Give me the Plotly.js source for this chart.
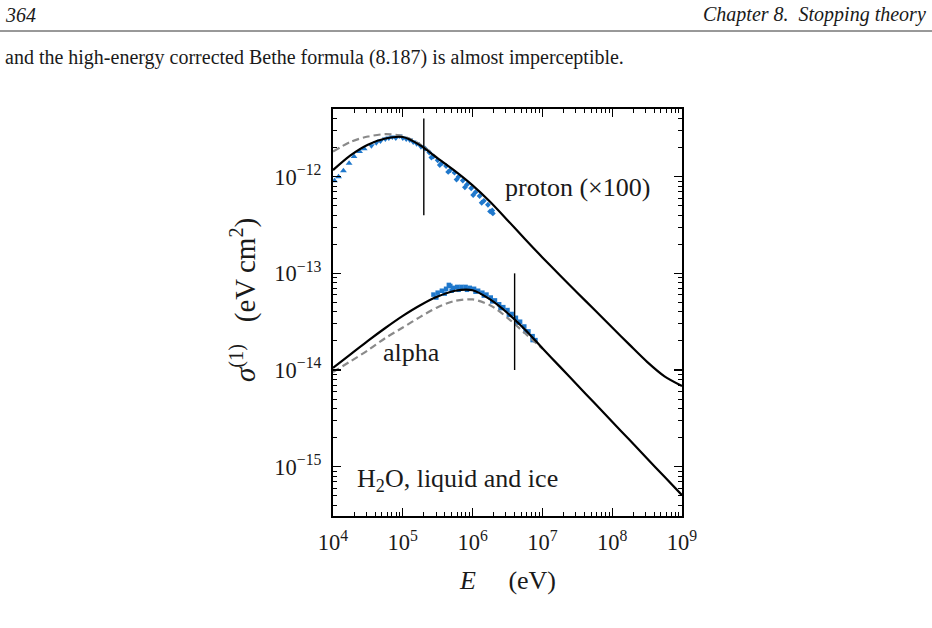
<!DOCTYPE html>
<html>
<head>
<meta charset="utf-8">
<script src="https://cdn.plot.ly/plotly-3.0.1.min.js"></script>
<style>
  html, body { margin: 0; padding: 0; background: #fff; }
  #chart { width: 932px; height: 628px; }
</style>
</head>
<body>
<div id="chart"></div>
<script>
// Electronic stopping cross section of H2O (liquid and ice), eV cm^2.
// Proton values are multiplied by 100.

// --- proton, corrected Bethe theory (solid) ---
const protonE = [1e4, 1.78e4, 3.16e4, 5.62e4, 1e5, 1.78e5, 3.16e5, 5.62e5, 1e6, 1.78e6, 3.16e6, 5.62e6, 1e7, 1.78e7, 3.16e7, 5.62e7, 1e8, 1.78e8, 3.16e8, 5.62e8, 1e9];
const protonS = [1.17e-12, 1.66e-12, 2.14e-12, 2.48e-12, 2.57e-12, 2.11e-12, 1.55e-12, 1.14e-12, 8.13e-13, 5.50e-13, 3.55e-13, 2.265e-13, 1.462e-13, 9.55e-14, 6.31e-14, 4.17e-14, 2.75e-14, 1.82e-14, 1.216e-14, 8.61e-15, 6.84e-15];

// --- proton, alternative theory (dashed) ---
const protonDashE = [1e4, 1.78e4, 3.16e4, 5.62e4, 1e5, 1.78e5, 3.16e5];
const protonDashS = [1.82e-12, 2.29e-12, 2.60e-12, 2.75e-12, 2.63e-12, 2.16e-12, 1.55e-12];

// --- proton, measurements ---
const protonUpE = [1.05e4, 1.2e4, 1.41e4, 1.7e4, 2.0e4, 2.4e4, 2.8e4];
const protonUpS = [9.1e-13, 1.0e-12, 1.15e-12, 1.38e-12, 1.62e-12, 1.82e-12, 1.95e-12];
const protonDownE = [3.55e4, 4.17e4, 4.79e4, 5.62e4, 6.31e4, 7.08e4, 7.94e4, 8.91e4, 1.0e5, 1.12e5, 1.26e5, 1.41e5, 1.58e5, 1.82e5];
const protonDownS = [2.09e-12, 2.24e-12, 2.34e-12, 2.45e-12, 2.51e-12, 2.57e-12, 2.51e-12, 2.63e-12, 2.51e-12, 2.45e-12, 2.40e-12, 2.29e-12, 2.19e-12, 2.04e-12];
const protonHighE = [2.09e5, 2.40e5, 2.75e5, 3.16e5, 3.63e5, 4.17e5, 4.79e5, 5.50e5, 6.31e5, 7.24e5, 8.32e5, 9.55e5, 1.10e6, 1.26e6, 1.45e6, 1.66e6, 1.91e6,
                     2.57e5, 3.39e5, 4.47e5, 5.89e5, 7.76e5, 1.02e6, 1.35e6, 1.78e6, 1.95e6];
const protonHighS = [1.95e-12, 1.78e-12, 1.62e-12, 1.48e-12, 1.38e-12, 1.29e-12, 1.17e-12, 1.10e-12, 1.00e-12, 9.12e-13, 8.32e-13, 7.59e-13, 6.92e-13, 6.31e-13, 5.62e-13, 5.13e-13, 4.47e-13,
                     1.58e-12, 1.32e-12, 1.12e-12, 9.33e-13, 7.76e-13, 6.46e-13, 5.37e-13, 4.37e-13, 4.17e-13];

// --- alpha, corrected Bethe theory (solid) ---
const alphaE = [1e4, 1.78e4, 3.16e4, 5.62e4, 1e5, 1.78e5, 3.16e5, 5.62e5, 1e6, 1.78e6, 3.16e6, 5.62e6, 1e7, 1.78e7, 3.16e7, 5.62e7, 1e8, 1.78e8, 3.16e8, 5.62e8, 1e9];
const alphaS = [1.05e-14, 1.45e-14, 2.0e-14, 2.72e-14, 3.63e-14, 4.68e-14, 5.75e-14, 6.61e-14, 6.68e-14, 5.37e-14, 3.89e-14, 2.63e-14, 1.679e-14, 1.084e-14, 7.0e-15, 4.52e-15, 2.917e-15, 1.884e-15, 1.216e-15, 7.85e-16, 5.07e-16];

// --- alpha, alternative theory (dashed) ---
const alphaDashE = [1e4, 1.78e4, 3.16e4, 5.62e4, 1e5, 1.78e5, 3.16e5, 5.62e5, 1e6, 1.78e6, 3.16e6, 5.62e6, 1e7];
const alphaDashS = [9.55e-15, 1.23e-14, 1.60e-14, 2.14e-14, 2.75e-14, 3.55e-14, 4.47e-14, 5.19e-14, 5.37e-14, 4.68e-14, 3.47e-14, 2.40e-14, 1.66e-14];

// --- alpha, measurements ---
const alphaDataE = [2.75e5, 3.16e5, 3.63e5, 4.17e5, 4.57e5, 4.79e5, 5.25e5, 6.03e5, 6.92e5, 7.94e5, 9.12e5, 1.05e6, 1.20e6, 1.38e6, 1.58e6, 1.82e6, 2.09e6, 2.40e6, 2.75e6, 3.16e6, 3.63e6, 4.17e6, 4.79e6, 5.50e6, 6.31e6, 7.24e6, 7.94e6,
                    3.02e5, 3.98e5, 5.01e5, 6.31e5, 8.32e5, 1.10e6, 1.45e6, 1.91e6, 2.51e6, 3.31e6, 4.37e6, 5.75e6, 7.24e6];
const alphaDataS = [6.03e-14, 6.31e-14, 6.61e-14, 6.92e-14, 7.59e-14, 7.41e-14, 7.08e-14, 7.24e-14, 7.24e-14, 7.24e-14, 7.08e-14, 6.92e-14, 6.61e-14, 6.31e-14, 6.03e-14, 5.62e-14, 5.25e-14, 4.79e-14, 4.47e-14, 4.17e-14, 3.80e-14, 3.47e-14, 3.16e-14, 2.82e-14, 2.51e-14, 2.24e-14, 2.04e-14,
                    5.62e-14, 6.17e-14, 6.61e-14, 6.76e-14, 6.76e-14, 6.46e-14, 5.89e-14, 5.13e-14, 4.37e-14, 3.72e-14, 3.09e-14, 2.51e-14, 2.04e-14];

// --- markers separating the validity regions ---
const protonCutE = [2e5, 2e5];
const protonCutS = [4e-12, 4e-13];
const alphaCutE = [4e6, 4e6];
const alphaCutS = [1e-13, 1e-14];

const FONT = 'Liberation Serif, Times New Roman, serif';
const INK = '#1a1a1a';
const BLUE = '#1f78cc';
const GREY = '#8a8a8a';

// plot box in page pixels
const L = 333, R = 682, T = 109, B = 516, W = 932, H = 628;
const px = x => (x - L) / (R - L);
const py = y => (B - y) / (B - T);

function curve(x, y, dashed) {
  return {
    x, y, type: 'scatter', mode: 'lines', hoverinfo: 'skip',
    line: dashed ? { color: GREY, width: 2.2, dash: '7px,4px', shape: 'spline', smoothing: 0.8 }
                 : { color: '#000', width: 2.2, shape: 'spline', smoothing: 0.8 }
  };
}
function points(x, y, symbol, size) {
  return { x, y, type: 'scatter', mode: 'markers', hoverinfo: 'skip',
           marker: { symbol, size, color: BLUE, line: { width: 0 } } };
}
function cut(x, y) {
  return { x, y, type: 'scatter', mode: 'lines', hoverinfo: 'skip', line: { color: '#000', width: 1.4 } };
}

const traces = [
  points(protonUpE, protonUpS, 'triangle-up', 6),
  points(protonDownE, protonDownS, 'triangle-down', 6),
  points(protonHighE, protonHighS, 'diamond', 4.5),
  points(alphaDataE, alphaDataS, 'square', 4.5),
  curve(protonDashE, protonDashS, true),
  curve(alphaDashE, alphaDashS, true),
  curve(protonE, protonS, false),
  curve(alphaE, alphaS, false),
  cut(protonCutE, protonCutS),
  cut(alphaCutE, alphaCutS)
];

const axisCommon = {
  type: 'log', showgrid: false, zeroline: false,
  showline: true, linecolor: '#000', linewidth: 2, mirror: 'allticks',
  ticks: 'inside', ticklen: 8, tickwidth: 1.3, tickcolor: '#000',
  tickmode: 'linear', tick0: 0, dtick: 1,
  exponentformat: 'power', showexponent: 'all',
  tickfont: { family: FONT, size: 18, color: INK },
  minor: { ticks: 'inside', ticklen: 4, tickwidth: 1, tickcolor: '#000', dtick: 'D1', showgrid: false }
};

const annText = (text, x, y, size, opts) => Object.assign({
  text, xref: 'paper', yref: 'paper', x: px(x), y: py(y), showarrow: false,
  font: { family: FONT, size, color: INK }, xanchor: 'center', yanchor: 'middle'
}, opts || {});

const layout = {
  width: W, height: H,
  margin: { l: L, r: W - R, t: T, b: H - B, pad: 0 },
  paper_bgcolor: '#fff', plot_bgcolor: '#fff',
  showlegend: false,
  xaxis: Object.assign({}, axisCommon, { range: [4, 9], ticklabelstandoff: 6 }),
  yaxis: Object.assign({}, axisCommon, { range: [-15.51, -11.30], ticklabelstandoff: 6 }),
  shapes: [
    { type: 'line', xref: 'paper', yref: 'paper', x0: px(0), x1: px(W), y0: py(31), y1: py(31),
      line: { color: '#333', width: 1 } }
  ],
  annotations: [
    annText('<i>364</i>', 3, 15, 20, { xanchor: 'left' }),
    annText('<i>Chapter 8.\u00a0\u00a0Stopping theory</i>', 928, 15, 20, { xanchor: 'right' }),
    annText('and the high-energy corrected Bethe formula (8.187) is almost imperceptible.', 3, 57, 20, { xanchor: 'left' }),
    annText('proton (×100)', 577, 187, 26),
    annText('alpha', 411, 352, 26),
    annText('H<sub>2</sub>O, liquid and ice', 355, 480, 26, { xanchor: 'left' }),
    annText('<i>E</i>\u00a0\u00a0\u00a0\u00a0\u00a0(eV)', 507, 580, 26),
    annText('<i>σ</i><sup>(1)</sup>\u00a0\u00a0\u00a0(eV\u2009cm<sup>2</sup>)', 243, 300, 29, { textangle: -90 })
  ]
};

Plotly.newPlot('chart', traces, layout, { staticPlot: true, displayModeBar: false });
</script>
</body>
</html>
